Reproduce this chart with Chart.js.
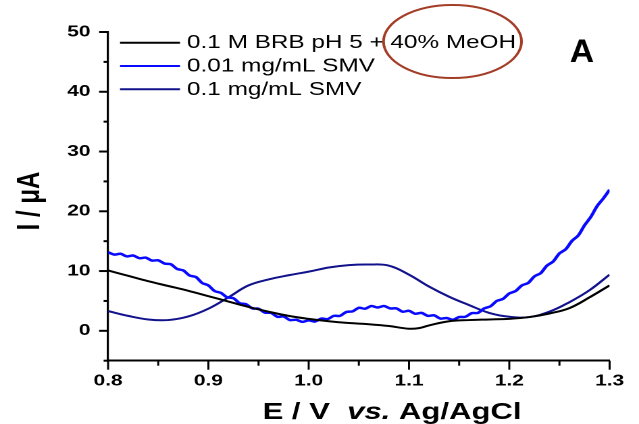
<!DOCTYPE html>
<html>
<head>
<meta charset="utf-8">
<script src="https://cdn.jsdelivr.net/npm/chart.js@4.4.1/dist/chart.umd.min.js"></script>
<style>
html, body { margin: 0; padding: 0; background: #fff; }
canvas { display: block; }
</style>
</head>
<body>
<!-- the original figure is stretched ~1.35x horizontally, so the canvas is drawn narrow and widened by css -->
<canvas id="voltChart" width="473" height="424" style="width:639px;height:424px"></canvas>
<script>
const seriesLabels = ['0.1 M BRB pH 5 + 40% MeOH', '0.01 mg/mL SMV', '0.1 mg/mL SMV'];
const seriesColors = ['#000000', '#0a0aff', '#12128c'];

// blank (black)
const eBlank = [0.80, 0.82, 0.84, 0.86, 0.88, 0.90, 0.92, 0.94, 0.96, 0.98, 1.00, 1.02, 1.04, 1.06, 1.08, 1.10, 1.11, 1.12, 1.14, 1.16, 1.18, 1.20, 1.22, 1.24, 1.26, 1.28, 1.30];
const iBlank = [10.1, 9.2, 8.3, 7.5, 6.7, 5.8, 4.9, 4.0, 3.2, 2.5, 2.0, 1.6, 1.3, 1.1, 0.8, 0.35, 0.45, 0.9, 1.6, 1.8, 1.9, 2.0, 2.3, 2.9, 3.8, 5.6, 7.6];

// 0.01 mg/mL SMV (bright blue, rippled trace)
const eLow = [0.8, 0.80625, 0.8125, 0.81875, 0.825, 0.83125, 0.8375, 0.84375, 0.85, 0.85625,
  0.8625, 0.86875, 0.875, 0.88125, 0.8875, 0.89375, 0.9, 0.90625, 0.9125, 0.91875,
  0.925, 0.93125, 0.9375, 0.94375, 0.95, 0.95625, 0.9625, 0.96875, 0.975, 0.98125,
  0.9875, 0.99375, 1.0, 1.00625, 1.0125, 1.01875, 1.025, 1.03125, 1.0375, 1.04375,
  1.05, 1.05625, 1.0625, 1.06875, 1.075, 1.08125, 1.0875, 1.09375, 1.1, 1.10625,
  1.1125, 1.11875, 1.125, 1.13125, 1.1375, 1.14375, 1.15, 1.15625, 1.1625, 1.16875,
  1.175, 1.18125, 1.1875, 1.19375, 1.2, 1.20625, 1.2125, 1.21875, 1.225, 1.23125,
  1.2375, 1.24375, 1.25, 1.25625, 1.2625, 1.26875, 1.275, 1.28125, 1.2875, 1.29375, 1.3];
const iLow = [13.15, 12.75, 12.9, 12.45, 12.6, 12.15, 12.25, 11.75, 11.8, 11.25,
  11.15, 10.35, 10.1, 9.25, 9.0, 8.0, 7.6, 6.65, 6.35, 5.6,
  5.45, 4.6, 4.45, 3.75, 3.7, 3.05, 3.0, 2.35, 2.4, 1.8,
  1.85, 1.5, 1.75, 1.55, 2.05, 1.95, 2.5, 2.5, 3.15, 3.25,
  3.85, 3.7, 4.15, 3.9, 4.15, 3.75, 3.75, 3.2, 3.35, 2.85,
  3.0, 2.5, 2.6, 2.05, 2.15, 1.85, 2.3, 2.35, 2.95, 3.0,
  3.75, 4.1, 5.0, 5.35, 6.25, 6.65, 7.6, 8.0, 9.1, 9.65,
  10.9, 11.6, 12.95, 13.65, 15.05, 15.95, 17.65, 19.05, 20.85, 22.15, 23.6];

// 0.1 mg/mL SMV (navy)
const eHigh = [0.80, 0.82, 0.84, 0.86, 0.88, 0.90, 0.92, 0.94, 0.96, 0.98, 1.00, 1.02, 1.04, 1.06, 1.08, 1.10, 1.12, 1.14, 1.16, 1.18, 1.20, 1.22, 1.24, 1.26, 1.28, 1.30];
const iHigh = [3.3, 2.5, 1.9, 1.8, 2.4, 3.7, 5.6, 7.6, 8.6, 9.3, 9.9, 10.6, 11.0, 11.1, 10.9, 9.4, 7.4, 5.7, 4.3, 3.0, 2.35, 2.3, 3.2, 4.8, 6.8, 9.4];

const xTicks = [0.8, 0.85, 0.9, 0.95, 1.0, 1.05, 1.1, 1.15, 1.2, 1.25, 1.3];
const xTickLabels = ['0.8', '', '0.9', '', '1.0', '', '1.1', '', '1.2', '', '1.3'];
const yTicks = [-5, 0, 5, 10, 15, 20, 25, 30, 35, 40, 45, 50];
const yTickLabels = ['', '0', '', '10', '', '20', '', '30', '', '40', '', '50'];

const S = 639 / 473;
const FONT = '"Liberation Sans", Arial, Helvetica, sans-serif';

function toPoints(xs, ys) {
    return xs.map((x, i) => ({ x: x, y: ys[i] }));
}

const tickMarks = {
    id: 'tickMarks',
    afterDraw(chart) {
        const ctx = chart.ctx;
        const x = chart.scales.x;
        const y = chart.scales.y;
        ctx.save();
        ctx.strokeStyle = '#000';
        ctx.lineWidth = 1.5;
        xTicks.forEach((v, i) => {
            const px = x.getPixelForValue(v);
            const len = xTickLabels[i] ? 9 : 5;
            ctx.beginPath();
            ctx.moveTo(px, x.top);
            ctx.lineTo(px, x.top + len);
            ctx.stroke();
        });
        ctx.lineWidth = 2;
        yTicks.forEach((v, i) => {
            const py = y.getPixelForValue(v);
            const len = (yTickLabels[i] ? 9 : 4.5) / S;
            ctx.beginPath();
            ctx.moveTo(y.right - len, py);
            ctx.lineTo(y.right, py);
            ctx.stroke();
        });
        ctx.restore();
    }
};

const annotations = {
    id: 'annotations',
    afterDraw(chart) {
        const ctx = chart.ctx;
        ctx.save();

        // legend
        chart.data.datasets.forEach((ds, i) => {
            const ly = 42.7 + i * 23.3;
            ctx.strokeStyle = ds.borderColor;
            ctx.lineWidth = 2;
            ctx.beginPath();
            ctx.moveTo(120 / S, ly);
            ctx.lineTo(180 / S, ly);
            ctx.stroke();
            ctx.fillStyle = '#000';
            ctx.font = '18px ' + FONT;
            ctx.textAlign = 'left';
            ctx.textBaseline = 'middle';
            ctx.fillText(ds.label, 187 / S, ly + 0.5);
        });

        // ellipse round "40% MeOH"
        ctx.strokeStyle = '#a33d28';
        ctx.lineWidth = 2;
        ctx.beginPath();
        ctx.ellipse(452.5 / S, 41.5, 69 / S, 36.5, 0, 0, Math.PI * 2);
        ctx.stroke();

        // panel letter
        ctx.save();
        ctx.translate(582 / S, 62);
        ctx.scale(0.78, 1);
        ctx.fillStyle = '#000';
        ctx.font = 'bold 32px ' + FONT;
        ctx.textAlign = 'center';
        ctx.textBaseline = 'alphabetic';
        ctx.fillText('A', 0, 0);
        ctx.restore();

        // y title
        ctx.save();
        ctx.translate(30 / S, 201);
        ctx.rotate(-Math.PI / 2);
        ctx.fillStyle = '#000';
        ctx.font = 'bold 24px ' + FONT;
        ctx.textAlign = 'center';
        ctx.textBaseline = 'middle';
        ctx.fillText('I / \u03bcA', 0, 0);
        ctx.restore();

        // x title with italic "vs."
        const parts = [
            ['bold 23px ' + FONT, 'E / V  '],
            ['italic bold 23px ' + FONT, 'vs.'],
            ['bold 23px ' + FONT, ' Ag/AgCl']
        ];
        let total = 0;
        parts.forEach(p => { ctx.font = p[0]; total += ctx.measureText(p[1]).width; });
        let tx = 392 / S - total / 2;
        ctx.fillStyle = '#000';
        ctx.textAlign = 'left';
        ctx.textBaseline = 'alphabetic';
        parts.forEach(p => {
            ctx.font = p[0];
            ctx.fillText(p[1], tx, 419);
            tx += ctx.measureText(p[1]).width;
        });

        ctx.restore();
    }
};

new Chart(document.getElementById('voltChart'), {
    type: 'line',
    data: {
        datasets: [
            { label: seriesLabels[0], data: toPoints(eBlank, iBlank), borderColor: seriesColors[0], borderWidth: 2, tension: 0.4 },
            { label: seriesLabels[1], data: toPoints(eLow, iLow), borderColor: seriesColors[1], borderWidth: 2.5, tension: 0.3 },
            { label: seriesLabels[2], data: toPoints(eHigh, iHigh), borderColor: seriesColors[2], borderWidth: 2, tension: 0.4 }
        ]
    },
    options: {
        responsive: false,
        devicePixelRatio: 2,
        animation: false,
        layout: { padding: { top: 32, right: 19.2, left: 0, bottom: 0 } },
        elements: { point: { radius: 0 } },
        plugins: {
            legend: { display: false },
            tooltip: { enabled: false }
        },
        scales: {
            x: {
                type: 'linear',
                min: 0.8,
                max: 1.3,
                afterBuildTicks: (scale) => { scale.ticks = xTicks.map(v => ({ value: v })); },
                afterFit: (scale) => { scale.height = 63.3; },
                grid: { display: false, drawTicks: false },
                border: { display: true, color: '#000', width: 2 },
                ticks: {
                    padding: 11,
                    color: '#000',
                    font: { family: FONT, size: 15.5, weight: 'bold' },
                    maxRotation: 0,
                    autoSkip: false,
                    callback: (value, index) => xTickLabels[index]
                }
            },
            y: {
                type: 'linear',
                min: -5,
                max: 50,
                afterBuildTicks: (scale) => { scale.ticks = yTicks.map(v => ({ value: v })); },
                afterFit: (scale) => { scale.width = 80; },
                grid: { display: false, drawTicks: false },
                border: { display: true, color: '#000', width: 1.6 },
                ticks: {
                    padding: 13,
                    color: '#000',
                    font: { family: FONT, size: 15.5, weight: 'bold' },
                    autoSkip: false,
                    callback: (value, index) => yTickLabels[index]
                }
            }
        }
    },
    plugins: [tickMarks, annotations]
});
</script>
</body>
</html>
